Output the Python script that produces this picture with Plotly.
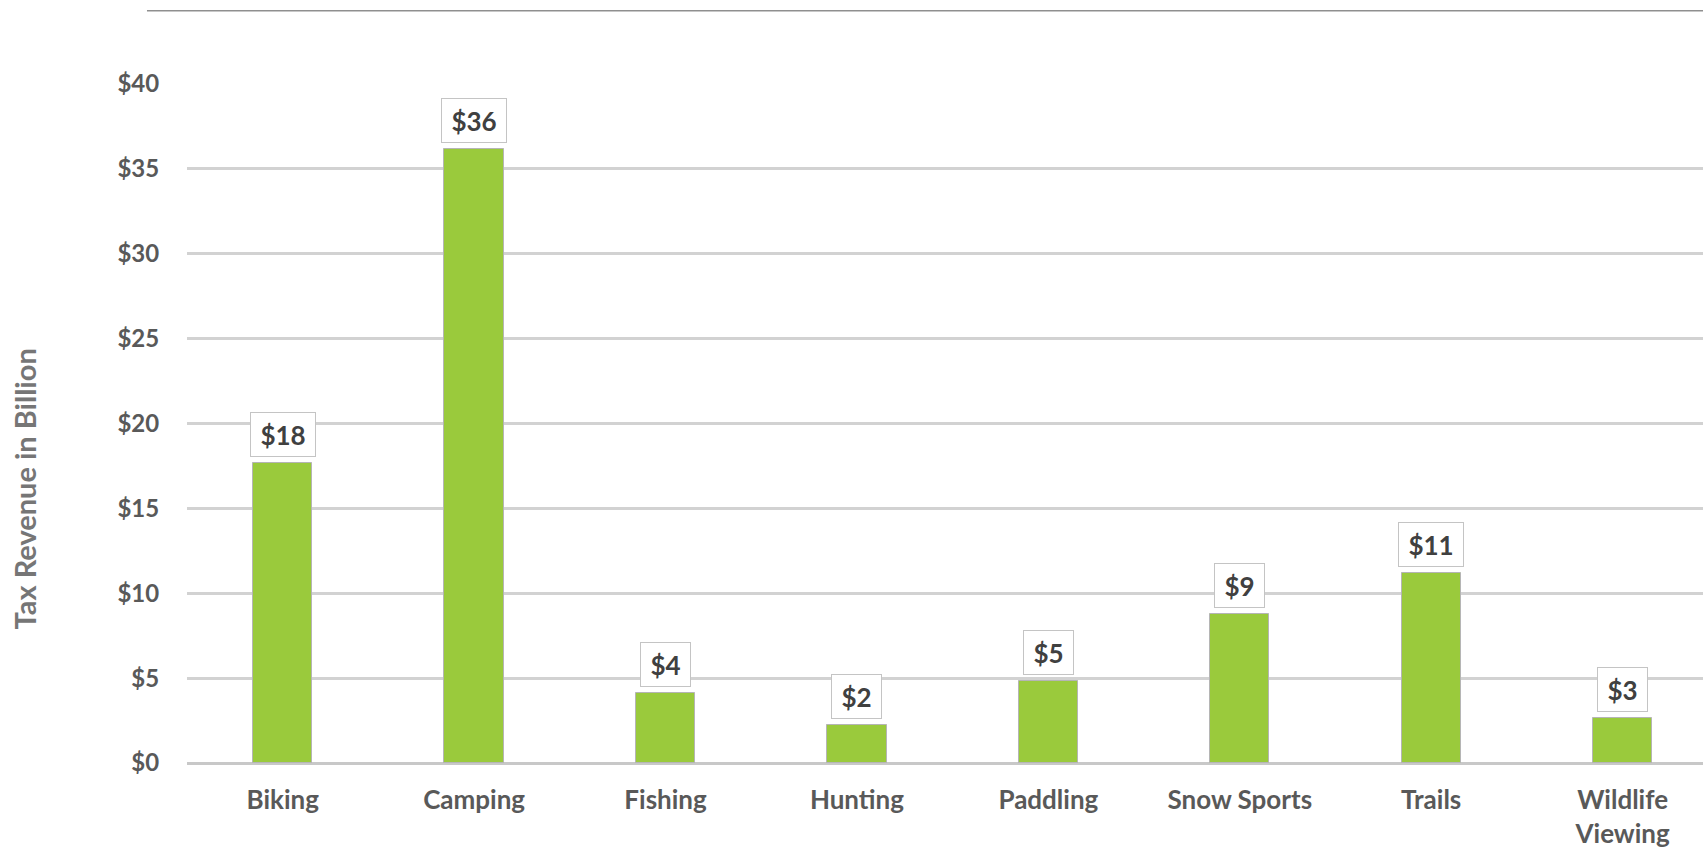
import plotly.graph_objects as go

categories = ["Biking", "Camping", "Fishing", "Hunting", "Paddling", "Snow Sports", "Trails", "Wildlife<br>Viewing"]
revenue = [17.67, 36.16, 4.12, 2.21, 4.86, 8.79, 11.19, 2.65]
labels = ["$18", "$36", "$4", "$2", "$5", "$9", "$11", "$3"]
y_ticks = [0, 5, 10, 15, 20, 25, 30, 35, 40]
y_tick_text = ["$" + str(v) for v in y_ticks]

FONT = "Lato"

fig = go.Figure()
fig.add_trace(go.Bar(
    x=list(range(len(categories))),
    y=revenue,
    width=0.31,
    marker=dict(color="#9aca3c", line=dict(color="#b5b5b5", width=1)),
    hoverinfo="skip",
))

for i, (v, t) in enumerate(zip(revenue, labels)):
    fig.add_annotation(
        x=i, y=v, xref="x", yref="y",
        text="<b>" + t + "</b>",
        showarrow=False,
        yanchor="bottom", yshift=6,
        width=17 + 15 * len(t), height=41,
        bgcolor="white", bordercolor="#c4c4c4", borderwidth=1,
        font=dict(family=FONT, size=26, color="#404040"),
    )

fig.add_annotation(
    x=-0.107, y=0.404, xref="paper", yref="paper",
    text="<b>Tax Revenue in Billion</b>", textangle=-90,
    showarrow=False, xanchor="center", yanchor="middle",
    font=dict(family=FONT, size=29, color="#767676"),
)

fig.add_shape(type="line", xref="paper", yref="paper",
              x0=-0.0264, x1=1.0, y0=1.108, y1=1.108,
              line=dict(color="#8f8f8f", width=1.5))

fig.update_layout(
    width=1703, height=850,
    margin=dict(l=187, r=0, t=84, b=87),
    plot_bgcolor="white", paper_bgcolor="white",
    showlegend=False,
    bargap=0,
)
fig.update_xaxes(
    range=[-0.5, 7.42],
    tickmode="array", tickvals=list(range(len(categories))),
    ticktext=["<b>" + c + "</b>" for c in categories],
    tickfont=dict(family=FONT, size=26, color="#595959"),
    showgrid=False, zeroline=False, showline=False,
    ticks="outside", ticklen=14, tickcolor="rgba(0,0,0,0)",
)
fig.update_yaxes(
    range=[0, 40],
    tickmode="array", tickvals=y_ticks,
    ticktext=["<b>" + t + "</b>" for t in y_tick_text],
    tickfont=dict(family=FONT, size=24, color="#595959"),
    showgrid=True, gridcolor="#d2d2d2", gridwidth=2.5,
    zeroline=True, zerolinecolor="#c8c8c8", zerolinewidth=3,
    showline=False,
    ticks="outside", ticklen=22, tickcolor="rgba(0,0,0,0)",
)

fig.write_html("out.html")
